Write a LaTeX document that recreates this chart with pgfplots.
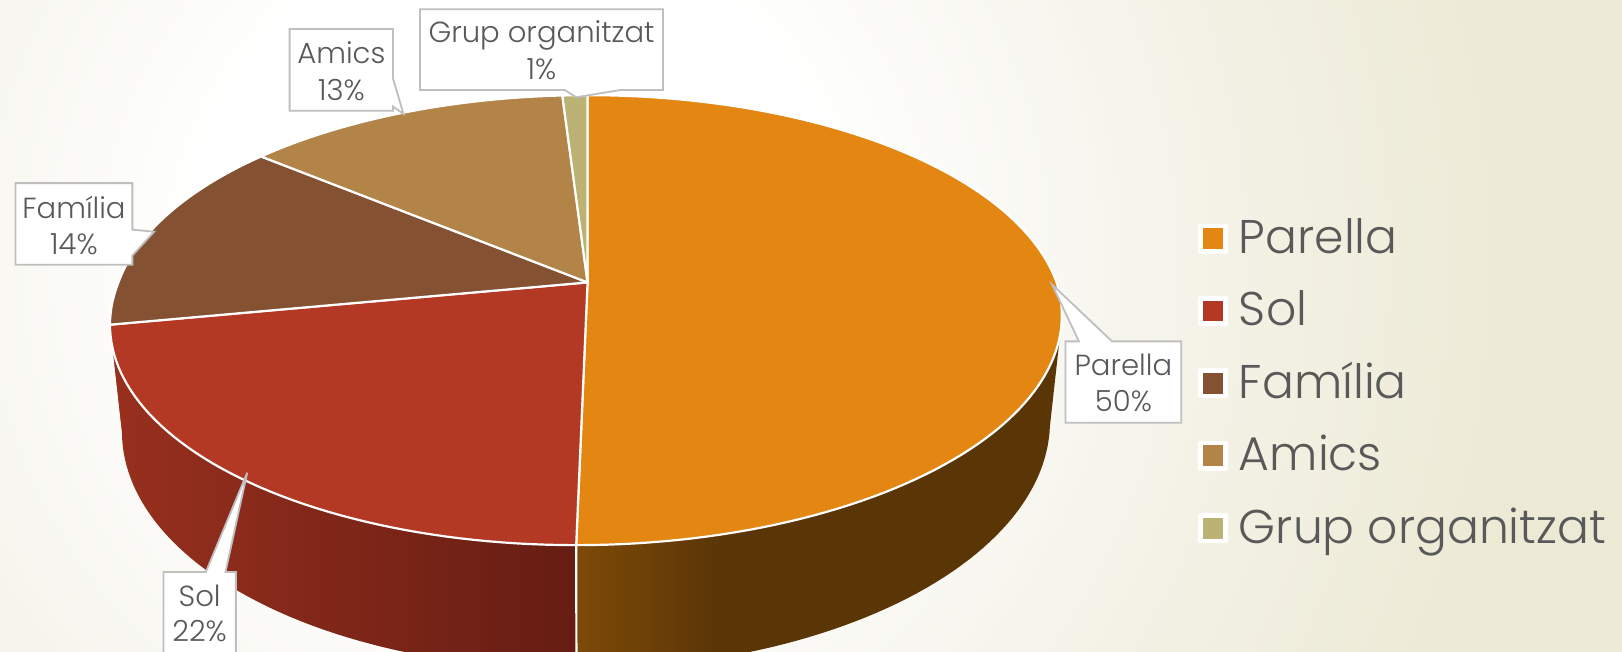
\documentclass[border=0pt]{standalone}
\usepackage{pgfplots}
\pgfplotsset{compat=1.18}
\usepackage{pgfplotstable}
\usepackage{fontspec}
\setmainfont{Poppins Light}

\definecolor{slice0}{RGB}{227,134,18}
\definecolor{slice1}{RGB}{180,57,37}
\definecolor{slice2}{RGB}{132,82,50}
\definecolor{slice3}{RGB}{178,132,72}
\definecolor{slice4}{RGB}{187,178,115}
\definecolor{txtgray}{RGB}{89,89,89}
\definecolor{boxgray}{RGB}{191,191,191}
\definecolor{bgA}{RGB}{247,246,239}
\definecolor{bgB}{RGB}{242,240,226}
\definecolor{bgout}{RGB}{236,233,212}
\definecolor{solA}{RGB}{152,48,30}
\definecolor{solB}{RGB}{102,29,19}
\definecolor{parA}{RGB}{125,74,8}
\definecolor{parB}{RGB}{90,53,6}
\definecolor{famA}{RGB}{150,50,32}

\pgfdeclareradialshading{bgshade}{\pgfpointorigin}{color(0bp)=(white); color(6bp)=(white); color(11.2bp)=(bgA); color(15bp)=(bgB); color(20bp)=(bgout); color(50bp)=(bgout)}
\pgfdeclarehorizontalshading{side0}{100bp}{color(0bp)=(parA); color(25bp)=(parA); color(40bp)=(parB); color(100bp)=(parB)}
\pgfdeclarehorizontalshading{side1}{100bp}{color(0bp)=(solA); color(25bp)=(solA); color(75bp)=(solB); color(100bp)=(solB)}
\pgfdeclarehorizontalshading{side2}{100bp}{color(0bp)=(famA); color(100bp)=(famA)}
\pgfdeclarehorizontalshading{side3}{100bp}{color(0bp)=(famA); color(100bp)=(famA)}
\pgfdeclarehorizontalshading{side4}{100bp}{color(0bp)=(famA); color(100bp)=(famA)}

% perspective projection of the pie rim (axis units = 0.1 mm)
\pgfmathdeclarefunction{rimxt}{1}{\pgfmathparse{568+(453.5*cos(#1)+9.15*min(sin(#1),0))/(1+0.1678*sin(#1))}}
\pgfmathdeclarefunction{rimyt}{1}{\pgfmathparse{357+211.4*sin(#1)/(1+0.1678*sin(#1))}}
\pgfmathdeclarefunction{rimxb}{1}{\pgfmathparse{568+0.975*(453.5*cos(#1)+9.15*min(sin(#1),0))/(1+0.1678*sin(#1))}}
\pgfmathdeclarefunction{rimyb}{1}{\pgfmathparse{357+(211.4*sin(#1)-100)/(1+0.1678*sin(#1))}}

\newcommand\addarc[3]{%
  \pgfmathtruncatemacro\nst{max(2,ceil(abs(#2-#1)/1.5))}%
  \pgfmathsetmacro\stp{(#2-#1)/\nst}%
  \foreach \k in {0,...,\nst}{%
    \pgfmathsetmacro\myang{#1+\stp*\k}%
    \pgfmathsetmacro\xx{rimx#3(\myang)}%
    \pgfmathsetmacro\yy{rimy#3(\myang)}%
    \xdef\arcpts{\arcpts (\xx,\yy)}%
  }%
}

\pgfplotstableread[col sep=comma]{
name,value
Parella,50
Sol,22
Família,14
Amics,13
Grup organitzat,1
}\piedata

\tikzset{cbox/.style={fill=white, draw=boxgray, line width=0.5pt, line join=miter},
  ctext/.style={anchor=base, text=txtgray, font=\fontsize{8}{10}\selectfont, inner sep=0pt}}

\begin{document}
\begin{tikzpicture}
% ---- geometry of the slices from the data
\gdef\curang{90}
\foreach \i in {0,...,4}{%
  \pgfplotstablegetelem{\i}{value}\of\piedata
  \pgfmathsetmacro\endang{\curang-3.6*\pgfplotsretval}%
  \gdef\arcpts{}%
  \addarc{\curang}{\endang}{t}%
  \expandafter\xdef\csname slicepts\i\endcsname{(568,357)\arcpts}%
  \expandafter\xdef\csname sa\i\endcsname{\curang}%
  \expandafter\xdef\csname se\i\endcsname{\endang}%
  \xdef\curang{\endang}%
}
\foreach \i in {0,...,4}{%
  \pgfmathsetmacro\lo{max(\csname se\i\endcsname,-170.34)}%
  \pgfmathsetmacro\hi{min(\csname sa\i\endcsname,-9.66)}%
  \ifdim\lo pt<\hi pt
    \gdef\arcpts{}%
    \addarc{\lo}{\hi}{t}%
    \addarc{\hi}{\lo}{b}%
    \expandafter\xdef\csname sidepts\i\endcsname{\arcpts}%
    \expandafter\xdef\csname hasside\i\endcsname{1}%
  \else
    \expandafter\xdef\csname hasside\i\endcsname{0}%
  \fi
  \pgfmathsetmacro\bb{\csname sa\i\endcsname}%
  \ifdim\bb pt<-12pt
    \ifdim\bb pt>-168pt
      \pgfmathsetmacro\xa{rimxt(\bb)}\pgfmathsetmacro\ya{rimyt(\bb)}%
      \pgfmathsetmacro\xb{rimxb(\bb)}\pgfmathsetmacro\yb{rimyb(\bb)}%
      \expandafter\xdef\csname sideline\i\endcsname{(\xa,\ya) (\xb,\yb)}%
      \expandafter\xdef\csname hasline\i\endcsname{1}%
    \else\expandafter\xdef\csname hasline\i\endcsname{0}\fi
  \else\expandafter\xdef\csname hasline\i\endcsname{0}\fi
}

% ---- background
\begin{scope}[x=0.1mm, y=0.1mm]
\useasboundingbox (0,0) rectangle (1568,630);
\fill[bgout] (0,0) rectangle (1568,630);
\begin{scope}
\clip (0,0) rectangle (1568,630);
\shade[shading=bgshade] (-750,-870) rectangle (1750,1630);
\end{scope}
\end{scope}

\begin{axis}[
  at={(0,0)}, anchor=south west,
  width=156.8mm, height=63mm, scale only axis,
  xmin=0, xmax=1568, ymin=0, ymax=630,
  axis lines=none, clip=true,
  legend image code/.code={\filldraw[draw=white, line width=0.45mm] (0pt,-2.63pt) rectangle (6.95pt,4.33pt);},
  legend cell align=left,
  legend style={at={(axis description cs:0.7387,0.6697)}, anchor=north west,
    draw=none, fill=none, inner sep=0pt, outer sep=0pt,
    font=\fontsize{13}{15}\selectfont, text=txtgray,
    row sep=5.42pt, column sep=2pt,
    nodes={inner sep=1pt, text height=9.5pt, text depth=3pt}},
]
% sides
\pgfplotsinvokeforeach{0,...,4}{%
  \if1\csname hasside#1\endcsname
    \edef\tmp{\noexpand\addplot[forget plot, draw=none, shade, shading=side#1] coordinates {\csname sidepts#1\endcsname} -- cycle;}\tmp
  \fi
}
\pgfplotsinvokeforeach{0,...,4}{%
  \if1\csname hasline#1\endcsname
    \edef\tmp{\noexpand\addplot[forget plot, draw=white, line width=0.6pt] coordinates {\csname sideline#1\endcsname};}\tmp
  \fi
}
% top faces
\pgfplotsinvokeforeach{0,...,4}{%
  \pgfplotstablegetelem{#1}{name}\of\piedata
  \edef\tmp{\noexpand\addplot[fill=slice#1, draw=white, line width=0.6pt, line join=round] coordinates {\csname slicepts#1\endcsname} -- cycle; \noexpand\addlegendentry{\pgfplotsretval}}\tmp
}

% callouts
\draw[cbox] (axis cs:406,621) -- (axis cs:641,621) -- (axis cs:641,543) -- (axis cs:600,543) -- (axis cs:557,536) -- (axis cs:546,543) -- (axis cs:406,543) -- cycle;
\node[ctext] at (axis cs:523.5,589) {Grup organitzat};
\node[ctext] at (axis cs:523.5,553) {1\%};

\draw[cbox] (axis cs:280,602) -- (axis cs:380,602) -- (axis cs:380,554) -- (axis cs:390,520) -- (axis cs:380,527) -- (axis cs:380,523) -- (axis cs:280,523) -- cycle;
\node[ctext] at (axis cs:330,569) {Amics};
\node[ctext] at (axis cs:330,533) {13\%};

\draw[cbox] (axis cs:15,453) -- (axis cs:128,453) -- (axis cs:128,408) -- (axis cs:149,406) -- (axis cs:128,383) -- (axis cs:128,374) -- (axis cs:15,374) -- cycle;
\node[ctext] at (axis cs:71.5,419) {Família};
\node[ctext] at (axis cs:71.5,383.5) {14\%};

\draw[cbox] (axis cs:1030,300) -- (axis cs:1043,300) -- (axis cs:1017,355) -- (axis cs:1075,300) -- (axis cs:1142,300) -- (axis cs:1142,221.4) -- (axis cs:1030,221.4) -- cycle;
\node[ctext] at (axis cs:1086,267) {Parella};
\node[ctext] at (axis cs:1086,232) {50\%};

\draw[cbox] (axis cs:158,77) -- (axis cs:199,77) -- (axis cs:239,173) -- (axis cs:218,77) -- (axis cs:228,77) -- (axis cs:228,-5) -- (axis cs:158,-5) -- cycle;
\node[ctext] at (axis cs:193,44) {Sol};
\node[ctext] at (axis cs:193,10) {22\%};
\end{axis}
\end{tikzpicture}
\end{document}
